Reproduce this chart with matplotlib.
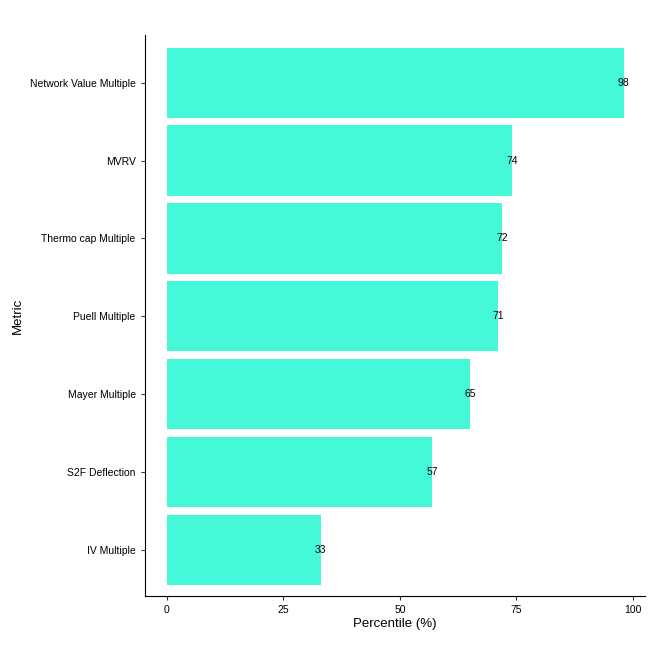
import matplotlib.pyplot as plt

metrics = ['IV Multiple', 'S2F Deflection', 'Mayer Multiple', 'Puell Multiple',
           'Thermo cap Multiple', 'MVRV', 'Network Value Multiple']
percentiles = [33, 57, 65, 71, 72, 74, 98]
ticks = [0, 25, 50, 75, 100]

fig = plt.figure(figsize=(6.61, 6.61), dpi=100)
ax = fig.add_axes([0.219, 0.098, 0.757, 0.849])
pos = list(range(len(metrics)))
ax.barh(pos, percentiles, height=0.9, color='#44f8d8')
for p, v in zip(pos, percentiles):
    ax.text(v, p, str(v), ha='center', va='center', fontsize=7.5, family='Liberation Sans')

ax.set_xlim(-4.7, 102.6)
ax.set_ylim(-0.59, 6.61)
ax.set_xticks(ticks)
ax.set_yticks(pos)
ax.set_yticklabels(metrics)
for lbl in ax.get_xticklabels() + ax.get_yticklabels():
    lbl.set_fontsize(7.5)
    lbl.set_family('Liberation Sans')
ax.tick_params(length=3, color='#333333')
ax.spines['top'].set_visible(False)
ax.spines['right'].set_visible(False)
ax.set_xlabel('Percentile (%)', fontsize=9.5, family='Liberation Sans', labelpad=2)
ax.set_ylabel('Metric', fontsize=9.5, family='Liberation Sans')

fig.savefig('out.png')
